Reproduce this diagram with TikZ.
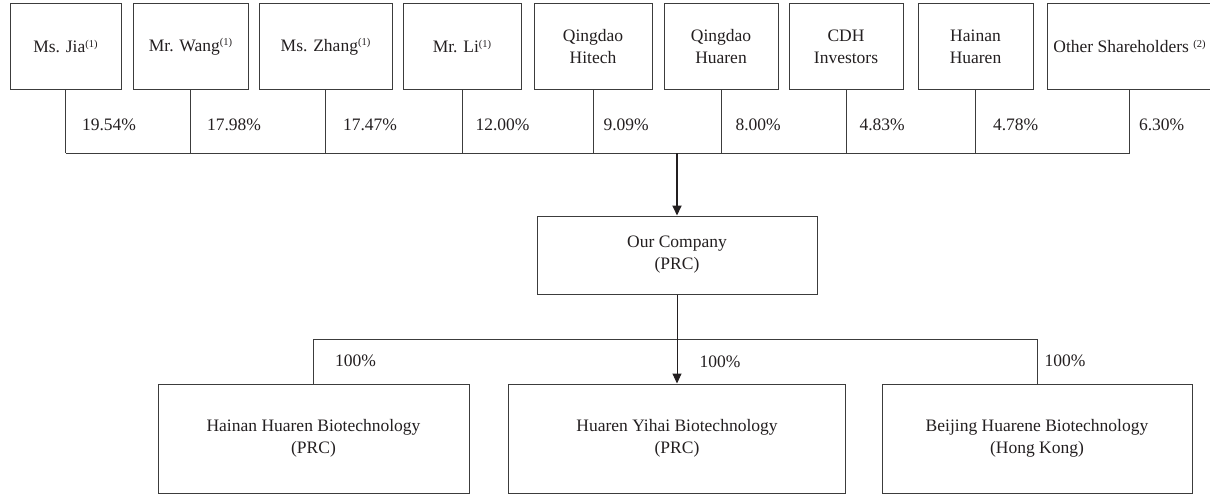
\documentclass[tikz,border=0pt]{standalone}
\usepackage{fontspec}
\setmainfont{Liberation Serif}
\usepackage{xcolor}
\usetikzlibrary{positioning,arrows.meta}
\definecolor{ink}{HTML}{231F20}
\definecolor{linec}{HTML}{3C3C3C}
\newcommand{\shnote}[1]{\raisebox{5.5pt}{\fontsize{10.5}{11}\selectfont(#1)}}

\begin{document}
\begin{tikzpicture}[
  x=1pt, y=-1pt,
  every node/.style={font=\fontsize{17.5}{22}\selectfont, text=ink},
  holder/.style={
    rectangle, draw=linec, line width=1pt,
    minimum height=85pt, align=center, inner sep=2pt
  },
  entity/.style={
    rectangle, draw=linec, line width=1pt,
    align=center, inner sep=2pt
  },
  pct/.style={inner sep=0pt},
  link/.style={draw=linec, line width=1pt},
  arr/.style={-{Triangle[length=10pt,width=9pt]}, draw=ink, line width=1pt}
]
\useasboundingbox (0,0) rectangle (1210,495);

% Shareholders along the top
\node[holder, minimum width=111pt] (jia)    at (65.5,46.5)   {Ms. Jia\shnote{1}};
\node[holder, minimum width=115pt] (wang)   at (190.5,46.5)  {Mr. Wang\shnote{1}};
\node[holder, minimum width=133pt] (zhang)  at (325.5,46.5)  {Ms. Zhang\shnote{1}};
\node[holder, minimum width=118pt] (li)     at (462,46.5)    {Mr. Li\shnote{1}};
\node[holder, minimum width=118pt] (hitech) at (593,46.5)    {Qingdao\\Hitech};
\node[holder, minimum width=114pt] (qdhr)   at (721,46.5)    {Qingdao\\Huaren};
\node[holder, minimum width=114pt] (cdh)    at (846,46.5)    {CDH\\Investors};
\node[holder, minimum width=115pt] (hnhr)   at (975.5,46.5)  {Hainan\\Huaren};
\node[holder, minimum width=165pt] (others) at (1129.5,46.5) {Other Shareholders \shnote{2}};

% Holdings joined on one bus
\coordinate (bus) at (0,153);
\draw[link] (jia.south |- bus) -- (others.south |- bus);
\draw[link] (jia.south)    -- node[pct, pos=0.55, right=16pt] {19.54\%} (jia.south |- bus);
\draw[link] (wang.south)   -- node[pct, pos=0.55, right=16pt] {17.98\%} (wang.south |- bus);
\draw[link] (zhang.south)  -- node[pct, pos=0.55, right=17pt] {17.47\%} (zhang.south |- bus);
\draw[link] (li.south)     -- node[pct, pos=0.55, right=13pt] {12.00\%} (li.south |- bus);
\draw[link] (hitech.south) -- node[pct, pos=0.55, right=10pt] {9.09\%}  (hitech.south |- bus);
\draw[link] (qdhr.south)   -- node[pct, pos=0.55, right=14pt] {8.00\%}  (qdhr.south |- bus);
\draw[link] (cdh.south)    -- node[pct, pos=0.55, right=13pt] {4.83\%}  (cdh.south |- bus);
\draw[link] (hnhr.south)   -- node[pct, pos=0.55, right=17pt] {4.78\%}  (hnhr.south |- bus);
\draw[link] (others.south) -- node[pct, pos=0.55, right=9pt]  {6.30\%}  (others.south |- bus);

% Company in the middle
\node[entity, minimum width=280pt, minimum height=78pt] (company) at (677,255) {Our Company\\(PRC)};
\draw[arr, line width=1.8pt] (company.north |- bus) -- (company.north);

% Subsidiaries
\node[entity, minimum width=311pt, minimum height=109pt] (hnbio) at (313.5,438.5) {Hainan Huaren Biotechnology\\(PRC)};
\node[entity, minimum width=337pt, minimum height=109pt] (yhbio) at (677,438.5)   {Huaren Yihai Biotechnology\\(PRC)};
\node[entity, minimum width=310pt, minimum height=109pt] (bjbio) at (1037,438.5)  {Beijing Huarene Biotechnology\\(Hong Kong)};

\coordinate (sub) at (0,339);
\draw[link] (hnbio.north |- sub) -- (bjbio.north |- sub);
\draw[link] (hnbio.north |- sub) -- node[pct, right=21pt] {100\%} (hnbio.north);
\draw[arr] (company.south) -- node[pct, pos=0.755, right=22pt] {100\%} (yhbio.north);
\draw[link] (bjbio.north |- sub) -- node[pct, right=7pt] {100\%} (bjbio.north);

\end{tikzpicture}
\end{document}
